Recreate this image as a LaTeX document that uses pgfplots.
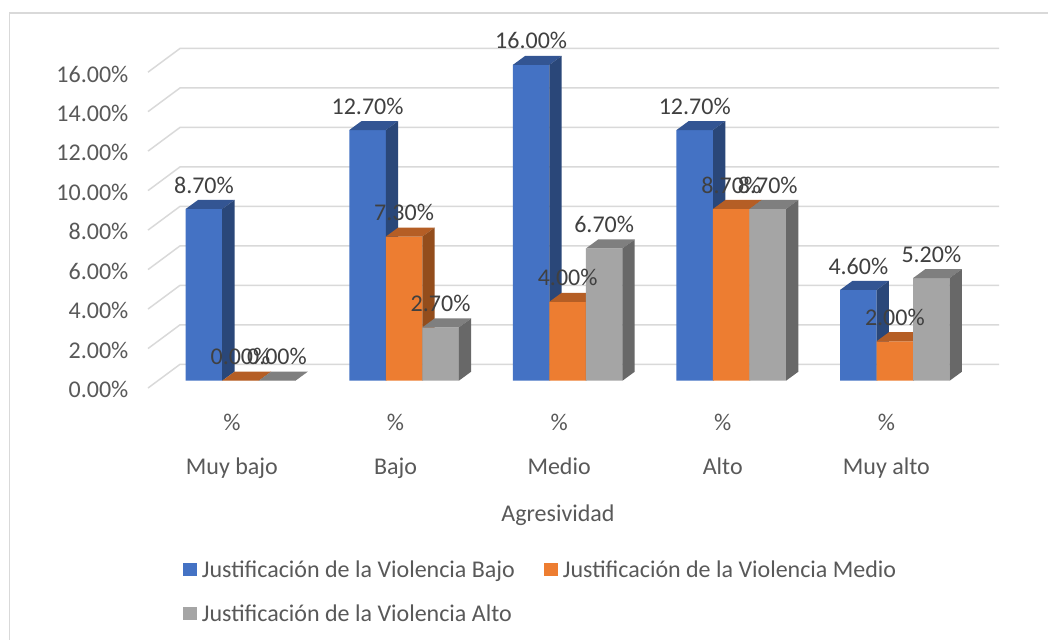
\documentclass[border=0pt]{standalone}
\usepackage{pgfplots}
\pgfplotsset{compat=1.18}
\usepackage{fontspec}
\setmainfont{Carlito}
\definecolor{gridc}{HTML}{D9D9D9}
\definecolor{frame}{HTML}{D9D9D9}
\definecolor{lbl}{HTML}{404040}
\definecolor{axt}{HTML}{595959}
\definecolor{bF}{HTML}{4472C4}\definecolor{bT}{HTML}{335593}\definecolor{bS}{HTML}{2A4779}
\definecolor{oF}{HTML}{ED7D31}\definecolor{oT}{HTML}{B55E25}\definecolor{oS}{HTML}{934D1C}
\definecolor{gF}{HTML}{A5A5A5}\definecolor{gT}{HTML}{7F7F7F}\definecolor{gS}{HTML}{686868}
% group centre, signed bar slot, value, colours of top and side
\newcommand\faces[5]{%
  \pgfmathsetmacro\xL{#1+(#2-0.5)*36.5}%
  \pgfmathsetmacro\xR{\xL+36.5}%
  \pgfmathsetmacro\xLb{\xL+12.3}%
  \pgfmathsetmacro\xRb{\xR+12.3}%
  \pgfmathsetmacro\yb{#3+0.456}%
  \pgfmathsetmacro\zb{0.456}%
  \addplot[fill=#4,draw=none,forget plot] coordinates {(\xL,#3) (\xR,#3) (\xRb,\yb) (\xLb,\yb)} --cycle;
  \addplot[fill=#5,draw=none,forget plot] coordinates {(\xR,0) (\xRb,\zb) (\xRb,\yb) (\xR,#3)} --cycle;
}
\newcommand\gline[1]{%
  \pgfmathsetmacro\ya{#1-0.37}\pgfmathsetmacro\yc{#1+0.831}%
  \addplot[gridc,line width=1.1pt,forget plot] coordinates {(148,\ya) (180,\yc) (999,\yc)};
}
\begin{document}
\begin{tikzpicture}
\useasboundingbox (0,0) rectangle (786pt,479.25pt);
\fill[white] (0,0) rectangle (786pt,479.25pt);
\draw[frame,line width=1.2pt] (7pt,-2pt) -- (7pt,469.6pt) -- (788pt,469.6pt);
\begin{axis}[
  at={(111pt,193.7pt)},anchor=south west,
  scale only axis,width=638.25pt,height=236.9pt,
  xmin=148,xmax=999,ymin=0,ymax=16,clip=false,
  axis line style={draw=none},major tick length=0pt,
  xtick={240.45,404.05,567.65,731.25,894.85},
  xticklabels={{\%\\[15pt]Muy bajo},{\%\\[15pt]Bajo},{\%\\[15pt]Medio},{\%\\[15pt]Alto},{\%\\[15pt]Muy alto}},
  xticklabel style={align=center,xshift=-6.4pt,text=axt,font=\fontsize{18}{18}\selectfont},
  xtick style={draw=none},ytick style={draw=none},
  ytick={0,2,...,16},
  yticklabel={\pgfmathprintnumber[fixed,fixed zerofill,precision=2,assume math mode=true]{\tick}\%},
  yticklabel style={yshift=-6.8pt,xshift=-11.2pt,text=axt,font=\fontsize{18}{20}\selectfont},
  xticklabel shift=21.5pt,
  xlabel={Agresividad},
  x label style={at={(axis cs:558,-6.8)},anchor=center,text=axt,font=\fontsize{18}{20}\selectfont},
  legend columns=2,
  legend cell align=left,
  legend image code/.code={\fill[#1] (0pt,-5pt) rectangle (10pt,5pt);},
  legend style={at={(axis cs:183,-8.95)},anchor=north west,draw=none,fill=none,inner sep=0pt,
    font=\fontsize{18}{20}\selectfont,text=axt,row sep=15pt,
    /tikz/every odd column/.append style={column sep=2pt},
    /tikz/every even column/.append style={column sep=20pt}},
  bar width=27.4pt,
]
\gline{0}\gline{2}\gline{4}\gline{6}\gline{8}\gline{10}\gline{12}\gline{14}\gline{16}
\addplot[ybar,bar shift=-27.375pt,fill=bF,draw=none] coordinates {(240.45,8.7) (404.05,12.7) (567.65,16.0) (731.25,12.7) (894.85,4.6)};
\addlegendentry{Justificación de la Violencia Bajo}
\faces{240.45}{-1}{8.7}{bT}{bS}\faces{404.05}{-1}{12.7}{bT}{bS}\faces{567.65}{-1}{16.0}{bT}{bS}\faces{731.25}{-1}{12.7}{bT}{bS}\faces{894.85}{-1}{4.6}{bT}{bS}
\addplot[ybar,bar shift=0pt,fill=oF,draw=none] coordinates {(240.45,0) (404.05,7.3) (567.65,4.0) (731.25,8.7) (894.85,2.0)};
\addlegendentry{Justificación de la Violencia Medio}
\faces{240.45}{0}{0}{oT}{oS}\faces{404.05}{0}{7.3}{oT}{oS}\faces{567.65}{0}{4.0}{oT}{oS}\faces{731.25}{0}{8.7}{oT}{oS}\faces{894.85}{0}{2.0}{oT}{oS}
\addplot[ybar,bar shift=27.375pt,fill=gF,draw=none] coordinates {(240.45,0) (404.05,2.7) (567.65,6.7) (731.25,8.7) (894.85,5.2)};
\addlegendentry{Justificación de la Violencia Alto}
\faces{240.45}{1}{0}{gT}{gS}\faces{404.05}{1}{2.7}{gT}{gS}\faces{567.65}{1}{6.7}{gT}{gS}\faces{731.25}{1}{8.7}{gT}{gS}\faces{894.85}{1}{5.2}{gT}{gS}
% data labels last, over every bar
\pgfplotsset{lab/.style={draw=none,mark=none,forget plot,
  nodes near coords={\pgfmathprintnumber[fixed,fixed zerofill,precision=2,assume math mode=true]{\pgfplotspointmeta}\%},
  every node near coord/.append style={anchor=center,yshift=18pt,text=lbl,font=\fontsize{18}{20}\selectfont}}}
\addplot[lab] coordinates {(203.95,8.7) (367.55,12.7) (531.15,16.0) (694.75,12.7) (858.35,4.6)};
\addplot[lab] coordinates {(240.45,0) (404.05,7.3) (567.65,4.0) (731.25,8.7) (894.85,2.0)};
\addplot[lab] coordinates {(276.95,0) (440.55,2.7) (604.15,6.7) (767.75,8.7) (931.35,5.2)};
\end{axis}
\end{tikzpicture}
\end{document}
